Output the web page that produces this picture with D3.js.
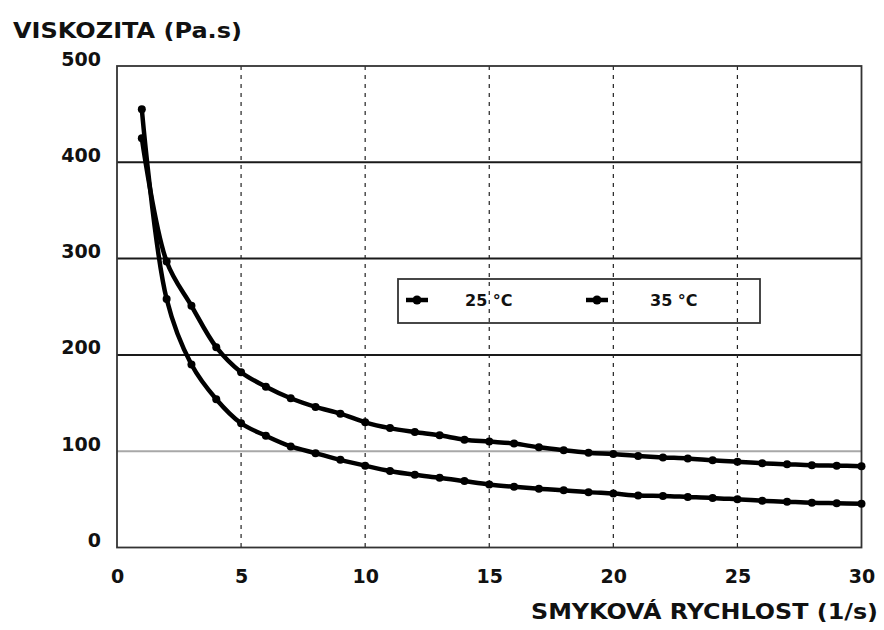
<!DOCTYPE html>
<html>
<head>
<meta charset="utf-8">
<script src="https://cdn.jsdelivr.net/npm/d3@7"></script>
<style>
  body { margin: 0; background: #fff; }
  text { font-family: "DejaVu Sans", sans-serif; font-weight: bold; fill: #111; }
</style>
</head>
<body>
<svg id="chart"></svg>
<script>
var WIDTH = 884, HEIGHT = 630;
var LEFT = 117, RIGHT = 861.5, TOP = 66, BOTTOM = 547.5;

//data
var shearRate = [1, 2, 3, 4, 5, 6, 7, 8, 9, 10, 11, 12, 13, 14, 15,
                 16, 17, 18, 19, 20, 21, 22, 23, 24, 25, 26, 27, 28, 29, 30];
var visc25 = [425, 297, 251, 208, 182, 167, 155, 146, 139, 130, 124, 120, 116.5, 112, 110,
              108, 104, 101, 98.5, 97, 95, 93.5, 92.5, 90.5, 89, 87.5, 86.5, 85.5, 85, 84.5];
var visc35 = [455, 258, 190, 154, 129, 116, 105, 98, 91, 85, 79.5, 75.5, 72.5, 69, 65.5,
              63, 61, 59.5, 57.5, 56, 54, 53.5, 52.5, 51.5, 50, 48.5, 47.5, 46.5, 46, 45.5];
var seriesNames = ["25 °C", "35 °C"];
var xTicks = [0, 5, 10, 15, 20, 25, 30];
var yTicks = [0, 100, 200, 300, 400, 500];

var svg = d3.select("#chart")
    .attr("width", WIDTH)
    .attr("height", HEIGHT);

var x = d3.scaleLinear().domain([0, 30]).range([LEFT, RIGHT]);
var y = d3.scaleLinear().domain([0, 500]).range([BOTTOM, TOP]);

//horizontal grid lines
svg.append("g")
    .selectAll("line")
    .data(yTicks.filter(function (d) { return d > 0 && d < 500; }))
    .join("line")
    .attr("x1", LEFT)
    .attr("x2", RIGHT)
    .attr("y1", function (d) { return y(d); })
    .attr("y2", function (d) { return y(d); })
    .style("stroke", function (d) { return d === 100 ? "#a8a8a8" : "#1a1a1a"; })
    .style("stroke-width", 2);

//vertical dashed grid lines
svg.append("g")
    .selectAll("line")
    .data(xTicks.filter(function (d) { return d > 0 && d < 30; }))
    .join("line")
    .attr("x1", function (d) { return x(d); })
    .attr("x2", function (d) { return x(d); })
    .attr("y1", TOP)
    .attr("y2", BOTTOM)
    .style("stroke", "#222")
    .style("stroke-width", 1.2)
    .style("stroke-dasharray", "4,5");

//plot frame
svg.append("rect")
    .attr("x", LEFT)
    .attr("y", TOP)
    .attr("width", RIGHT - LEFT)
    .attr("height", BOTTOM - TOP)
    .style("fill", "none")
    .style("stroke", "#333")
    .style("stroke-width", 1.8);

//axes (labels only)
var xAxis = svg.append("g")
    .attr("transform", "translate(0," + BOTTOM + ")")
    .call(d3.axisBottom(x).tickValues(xTicks).tickSize(0).tickPadding(22));
xAxis.select(".domain").remove();
xAxis.selectAll("text")
    .style("font-size", "19px")
    .style("font-family", "DejaVu Sans")
    .style("font-weight", "bold");

var yAxis = svg.append("g")
    .attr("transform", "translate(101,0)")
    .call(d3.axisLeft(y).tickValues(yTicks).tickSize(0).tickPadding(0));
yAxis.select(".domain").remove();
yAxis.selectAll("text")
    .attr("dy", "-0.05em")
    .style("font-size", "19px")
    .style("font-family", "DejaVu Sans")
    .style("font-weight", "bold");

//axis titles
svg.append("text")
    .attr("x", 13)
    .attr("y", 38)
    .attr("textLength", 229)
    .attr("lengthAdjust", "spacingAndGlyphs")
    .style("font-size", "22px")
    .text("VISKOZITA  (Pa.s)");
svg.append("text")
    .attr("x", 531)
    .attr("y", 619)
    .attr("textLength", 347)
    .attr("lengthAdjust", "spacingAndGlyphs")
    .style("font-size", "22px")
    .text("SMYKOVÁ RYCHLOST (1/s)");

//curves
var series = [visc25, visc35];
var line = d3.line()
    .x(function (d, i) { return x(shearRate[i]); })
    .y(function (d) { return y(d); })
    .curve(d3.curveCatmullRom);

series.forEach(function (vals) {
    svg.append("path")
        .attr("d", line(vals))
        .style("fill", "none")
        .style("stroke", "#000")
        .style("stroke-width", 4.5);
    svg.append("g")
        .selectAll("circle")
        .data(vals)
        .join("circle")
        .attr("cx", function (d, i) { return x(shearRate[i]); })
        .attr("cy", function (d) { return y(d); })
        .attr("r", 4)
        .style("fill", "#000");
});

//legend
var legend = svg.append("g");
legend.append("rect")
    .attr("x", 398)
    .attr("y", 279)
    .attr("width", 362)
    .attr("height", 44)
    .style("fill", "none")
    .style("stroke", "#333")
    .style("stroke-width", 1.8);
var legendX = [417, 597];
var legendTextX = [465, 650];
seriesNames.forEach(function (name, i) {
    legend.append("line")
        .attr("x1", legendX[i] - 11)
        .attr("x2", legendX[i] + 11)
        .attr("y1", 300)
        .attr("y2", 300)
        .style("stroke", "#000")
        .style("stroke-width", 4.5);
    legend.append("circle")
        .attr("cx", legendX[i])
        .attr("cy", 300)
        .attr("r", 4.5)
        .style("fill", "#000");
    legend.append("text")
        .attr("x", legendTextX[i])
        .attr("y", 306)
        .style("font-size", "16px")
        .text(name);
});
</script>
</body>
</html>
